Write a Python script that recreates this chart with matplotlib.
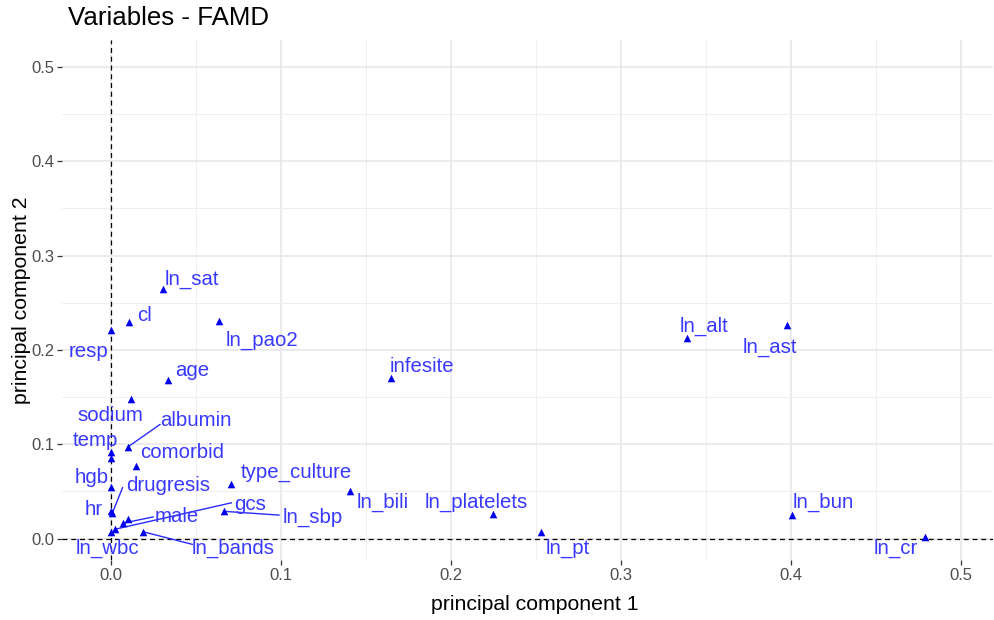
import matplotlib
matplotlib.use("Agg")
import matplotlib.pyplot as plt

plt.rcParams['font.family'] = ['Liberation Sans', 'DejaVu Sans']

# ---- data (principal component coordinates) ----
names = ["ln_sat", "cl", "resp", "ln_pao2", "age", "infesite", "ln_alt", "ln_ast",
         "sodium", "albumin", "temp", "", "comorbid", "type_culture", "ln_bili",
         "hgb", "hr", "drugresis", "ln_sbp", "gcs", "male", "", "ln_wbc",
         "ln_bands", "ln_platelets", "ln_pt", "ln_bun", "ln_cr"]
pc1 = [0.031, 0.0106, 0.0, 0.0635, 0.034, 0.165, 0.339, 0.398,
       0.012, 0.010, 0.0, 0.0, 0.0147, 0.071, 0.141,
       0.0, 0.0, 0.001, 0.0665, 0.0026, 0.0073, 0.0102, 0.0,
       0.019, 0.225, 0.253, 0.401, 0.479]
pc2 = [0.265, 0.230, 0.221, 0.231, 0.168, 0.170, 0.213, 0.226,
       0.148, 0.097, 0.092, 0.085, 0.077, 0.058, 0.050,
       0.055, 0.029, 0.027, 0.029, 0.010, 0.0165, 0.021, 0.007,
       0.0074, 0.026, 0.0074, 0.025, 0.002]

# ---- label layout (repelled text centres, data units) ----
label_pos = {
    "ln_sat": (0.048, 0.275), "cl": (0.020, 0.236), "resp": (-0.013, 0.198),
    "ln_pao2": (0.089, 0.210), "age": (0.048, 0.178), "infesite": (0.183, 0.183),
    "ln_alt": (0.349, 0.225), "ln_ast": (0.388, 0.203), "sodium": (0.0, 0.131),
    "albumin": (0.050, 0.125), "temp": (-0.009, 0.104), "comorbid": (0.042, 0.091),
    "type_culture": (0.109, 0.070), "hgb": (-0.011, 0.065), "drugresis": (0.034, 0.056),
    "hr": (-0.010, 0.031), "gcs": (0.082, 0.036), "male": (0.039, 0.024),
    "ln_sbp": (0.119, 0.023), "ln_bili": (0.160, 0.038), "ln_platelets": (0.215, 0.038),
    "ln_bun": (0.419, 0.038), "ln_wbc": (-0.002, -0.010), "ln_bands": (0.072, -0.010),
    "ln_pt": (0.269, -0.010), "ln_cr": (0.462, -0.010),
}
# segment ends at the label side
seg_end = {
    "albumin": (0.029, 0.121), "drugresis": (0.007, 0.054), "gcs": (0.071, 0.038),
    "male": (0.025, 0.023), "ln_sbp": (0.099, 0.025), "ln_bands": (0.048, -0.006),
}

fig = plt.figure(figsize=(9.94, 6.2), dpi=100)
ax = fig.add_axes([62/994, 60/620, (993-62)/994, (560-40)/620])

ax.set_xlim(-0.0286, 0.519)
ax.set_ylim(-0.0226, 0.5285)

# grid (theme_minimal)
ax.set_xticks([0, 0.1, 0.2, 0.3, 0.4, 0.5])
ax.set_yticks([0, 0.1, 0.2, 0.3, 0.4, 0.5])
ax.set_xticks([0.05, 0.15, 0.25, 0.35, 0.45], minor=True)
ax.set_yticks([0.05, 0.15, 0.25, 0.35, 0.45], minor=True)
ax.grid(True, which='major', color='#E6E6E6', linewidth=1.1)
ax.grid(True, which='minor', color='#EFEFEF', linewidth=0.7)
ax.set_axisbelow(True)
for s in ax.spines.values():
    s.set_visible(False)
ax.set_xticklabels(["0.0", "0.1", "0.2", "0.3", "0.4", "0.5"])
ax.set_yticklabels(["0.0", "0.1", "0.2", "0.3", "0.4", "0.5"])
ax.tick_params(which='major', length=3.5, width=0.9, color='#333333',
               labelcolor='#4D4D4D', labelsize=12, pad=2)
ax.tick_params(which='minor', length=0)

ax.axhline(0, color='black', linestyle=(0, (4, 3)), linewidth=0.9, zorder=1)
ax.axvline(0, color='black', linestyle=(0, (4, 3)), linewidth=0.9, zorder=1)

# segments
for n, (ex, ey) in seg_end.items():
    i = names.index(n)
    ax.plot([pc1[i], ex], [pc2[i], ey], color='#2a2aff', linewidth=1.0, zorder=2)

ax.scatter(pc1, pc2, marker='^', s=30, color='#0000ee', zorder=3, linewidths=0)

for n in names:
    if n and n in label_pos:
        lx, ly = label_pos[n]
        ax.text(lx, ly, n, color='#3838ff', fontsize=14.7, ha='center', va='center',
                zorder=4)

ax.set_xlabel("principal component 1", fontsize=15.3)
ax.set_ylabel("principal component 2", fontsize=15.3)
ax.xaxis.set_label_coords(0.5 + 7/931, -35/520)
ax.yaxis.set_label_coords(-31/931, 0.5)
fig.text(68/994, 1 - 18/620, "Variables - FAMD", fontsize=18.6, ha='left', va='center')

fig.savefig("out.png", dpi=100)
